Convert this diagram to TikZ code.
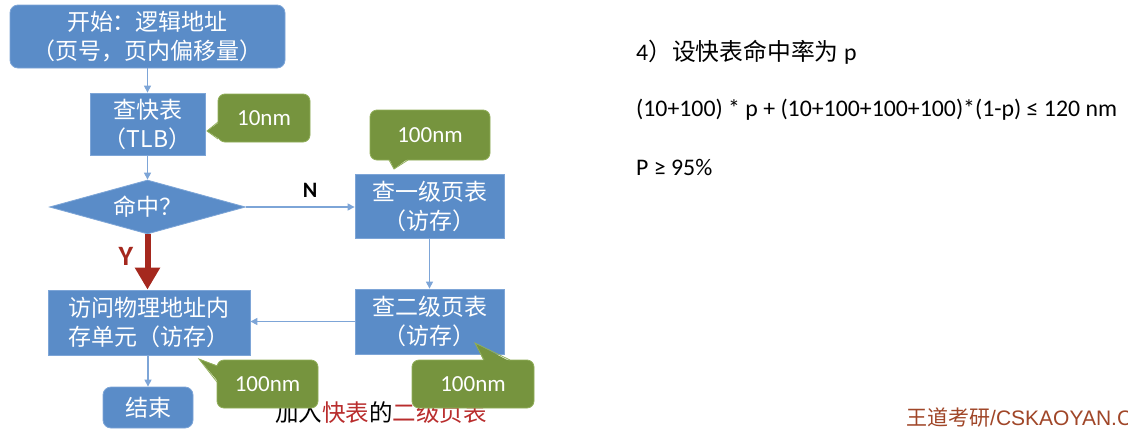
\documentclass[tikz,border=0pt]{standalone}
\usepackage{fontspec}
\setmainfont{Carlito}
\newfontfamily\cjk{Noto Sans CJK SC}
\newfontfamily\wmfont{Liberation Sans}
\usetikzlibrary{shapes.geometric,arrows.meta}
\definecolor{boxblue}{RGB}{90,140,200}
\definecolor{boxedge}{RGB}{125,165,215}
\definecolor{lineblue}{RGB}{125,165,215}
\definecolor{callgreen}{RGB}{118,148,62}
\definecolor{calledge}{RGB}{145,175,90}
\definecolor{yred}{RGB}{165,40,30}
\definecolor{capred}{RGB}{185,45,45}
\definecolor{wmbrown}{RGB}{160,70,40}
\tikzset{
 flowbox/.style={draw=boxedge, fill=boxblue, line width=0.8pt, text=white, align=center, inner sep=0pt, font=\cjk\fontsize{23}{29}\selectfont},
 roundbox/.style={flowbox, rounded corners=8pt},
 decision/.style={flowbox, diamond, minimum width=196pt, minimum height=54pt, aspect=3.6},
 flowarrow/.style={draw=lineblue, line width=1.2pt, -{Triangle[width=7pt,length=7pt]}},
 yesarrow/.style={draw=yred, line width=6pt, -{Triangle[width=24pt,length=22pt]}},
 callbody/.style={fill=callgreen, draw=calledge, line width=0.8pt, rounded corners=7pt, text=white, inner sep=0pt, font=\fontsize{23}{26}\selectfont},
 callptr/.style={fill=callgreen},
 callptredge/.style={draw=calledge, line width=0.8pt},
 righttext/.style={anchor=west, inner sep=0pt, text=black, font=\fontsize{23.8}{26}\selectfont},
}
\begin{document}
\begin{tikzpicture}[x=1pt,y=-1pt]
\useasboundingbox[fill=white] (0,0) rectangle (1128,437);
\clip (0,0) rectangle (1128,437);
% flow nodes
\node[roundbox, minimum width=275pt, minimum height=63pt] (start) at (147.5,36.5) {开始：逻辑地址\\（页号，页内偏移量）};
\node[flowbox, minimum width=115pt, minimum height=62pt] (tlb) at (147.5,124) {查快表\\（TLB）};
\node[decision] (hit) at (147.5,207) {命中？};
\node[flowbox, minimum width=149pt, minimum height=64pt] (pt1) at (429.5,206) {查一级页表\\（访存）};
\node[flowbox, minimum width=149pt, minimum height=65pt] (pt2) at (429.5,321.5) {查二级页表\\（访存）};
\node[flowbox, minimum width=202pt, minimum height=65pt] (mem) at (149,322.5) {访问物理地址内\\存单元（访存）};
\node[roundbox, minimum width=90pt, minimum height=41pt] (fin) at (148,407.5) {结束};
% connectors
\draw[flowarrow] (start.south) -- (start.south |- tlb.north);
\draw[flowarrow] (tlb.south) -- (hit.north);
\draw[flowarrow] (hit.east) -- (hit.east -| pt1.west);
\draw[flowarrow] (pt1.south) -- (pt2.north);
\draw[flowarrow] (pt2.west) -- (pt2.west -| mem.east);
\draw[flowarrow] (mem.south -| fin.north) -- (fin.north);
\draw[yesarrow] (hit.south) -- (hit.south |- mem.north);
\node[inner sep=0pt, font=\bfseries\fontsize{22}{22}\selectfont] (nlab) at (310,190) {N};
\node[inner sep=0pt, text=yred, font=\bfseries\fontsize{28}{28}\selectfont] (ylab) at (126,256) {Y};
% caption
\node[inner sep=0pt, font=\cjk\fontsize{23.5}{23.5}\selectfont] (cap) at (381,413) {加入\textcolor{capred}{快表}的\textcolor{capred}{二级页表}};
% callouts
\node[callbody, minimum width=92pt, minimum height=48pt] (c1) at (264,118) {10nm};
\fill[callptr] (219.5,122) -- (207,131) -- (219.5,139) -- cycle;
\draw[callptredge] (218,122) -- (207,131) -- (218,139);
\node[callbody, minimum width=120pt, minimum height=50pt] (c2) at (430,135) {100nm};
\fill[callptr] (389,158.5) -- (394,169) -- (408,158.5) -- cycle;
\draw[callptredge] (389,160) -- (394,169) -- (408,160);
\node[callbody, minimum width=101pt, minimum height=48pt] (c3) at (267.5,384) {100nm};
\fill[callptr] (218.5,366) -- (199,359) -- (218.5,382) -- cycle;
\draw[callptredge] (217,366) -- (199,359) -- (217,382);
\node[callbody, minimum width=122pt, minimum height=48pt] (c4) at (473,384) {100nm};
\fill[callptr] (484,361.5) -- (475,343) -- (510,361.5) -- cycle;
\draw[callptredge] (484,360) -- (475,343) -- (510,360);
% right text
\node[righttext] (q1) at (636,52) {4{\cjk ）设快表命中率为} p};
\node[righttext] (q2) at (636,110) {(10+100) * p + (10+100+100+100)*(1-p) ≤ 120 nm};
\node[righttext] (q3) at (636,167) {P ≥ 95\%};
% watermark
\node[anchor=west, inner sep=0pt, text=wmbrown, font=\fontsize{21}{21}\selectfont] (wm) at (906,418) {{\cjk 王道考研}\wmfont/CSKAOYAN.C};
\end{tikzpicture}
\end{document}
